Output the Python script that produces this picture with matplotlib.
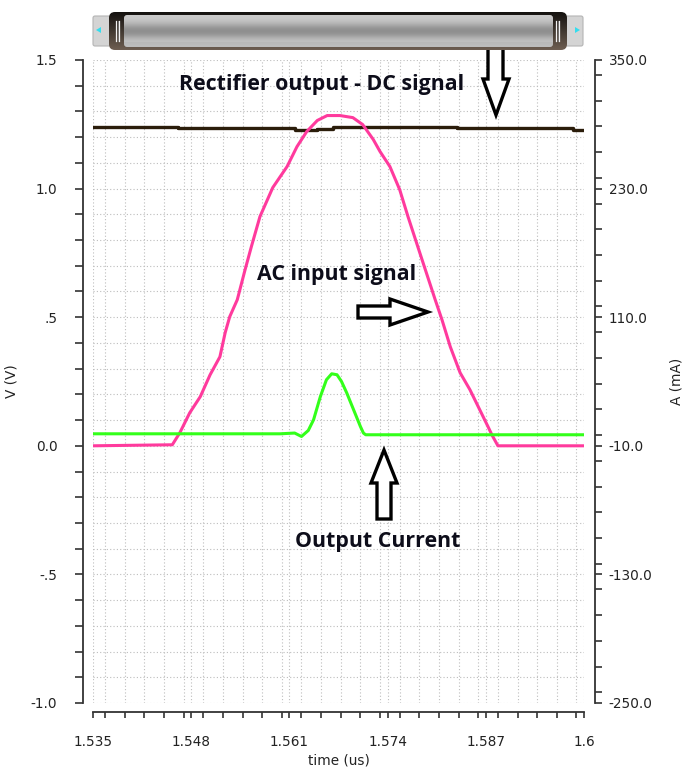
import numpy as np
import matplotlib
matplotlib.use("Agg")
import matplotlib.pyplot as plt
from matplotlib.ticker import MultipleLocator, FixedLocator
from matplotlib.patches import Polygon, FancyBboxPatch

# ---------------- data ----------------
time_ac = [1.5350, 1.5455, 1.5465, 1.5478, 1.5492, 1.5505, 1.5518, 1.5525, 1.5531, 1.5541,
           1.5551, 1.5560, 1.5571, 1.5588, 1.5607, 1.5620, 1.5633, 1.5647, 1.5660, 1.5677,
           1.5694, 1.5707, 1.5721, 1.5730, 1.5743, 1.5756, 1.5767, 1.5783, 1.5803, 1.5812,
           1.5823, 1.5836, 1.5849, 1.5862, 1.5873, 1.5878, 1.5886, 1.6000]
ac_volts = [0.0, 0.004, 0.051, 0.128, 0.191, 0.276, 0.346, 0.440, 0.502, 0.568,
            0.681, 0.778, 0.891, 1.004, 1.086, 1.163, 1.222, 1.265, 1.284, 1.284,
            1.276, 1.249, 1.191, 1.144, 1.086, 0.996, 0.891, 0.747, 0.568, 0.490,
            0.385, 0.284, 0.218, 0.140, 0.074, 0.043, 0.0, 0.0]

time_dc = [1.5350, 1.5463, 1.5617, 1.5647, 1.5668, 1.5832, 1.5985, 1.6000]
dc_volts = [1.241, 1.235, 1.226, 1.231, 1.241, 1.235, 1.228, 1.228]

time_i = [1.5350, 1.5598, 1.5617, 1.5626, 1.5635, 1.5642, 1.5651, 1.5659, 1.5666,
          1.5673, 1.5679, 1.5686, 1.5695, 1.5704, 1.5708, 1.5711, 1.6000]
current_ma = [1.2, 1.2, 1.9, -1.3, 4.3, 14.3, 36.0, 51.6, 57.2,
              56.3, 50.0, 39.2, 23.6, 8.0, 1.9, 0.3, 0.3]

x_ticks = [1.535, 1.548, 1.561, 1.574, 1.587, 1.6]
x_tick_labels = ["1.535", "1.548", "1.561", "1.574", "1.587", "1.6"]
v_ticks = [-1.0, -0.5, 0.0, 0.5, 1.0, 1.5]
v_tick_labels = ["-1.0", "-.5", "0.0", ".5", "1.0", "1.5"]
a_ticks = [-250.0, -130.0, -10.0, 110.0, 230.0, 350.0]
a_tick_labels = ["-250.0", "-130.0", "-10.0", "110.0", "230.0", "350.0"]

# ---------------- figure ----------------
W, H = 686, 767
fig = plt.figure(figsize=(W / 100, H / 100), dpi=100)
fig.patch.set_facecolor("white")

L, R, T, B = 93, 584, 60, 703
ax = fig.add_axes([L / W, 1 - B / H, (R - L) / W, (B - T) / H])
ax2 = ax.twinx()

def px(x, y):
    return ((x - L) / (R - L), (B - y) / (B - T))

spine_col = "#333333"
tick_col = "#222222"
tfs = 9.8

ax.set_xlim(1.535, 1.6)
ax.set_ylim(-1.0, 1.5)
ax2.set_ylim(-250, 350)

ax.xaxis.set_major_locator(FixedLocator(x_ticks))
ax.set_xticklabels(x_tick_labels)
ax.xaxis.set_minor_locator(MultipleLocator(0.0026))
ax.yaxis.set_major_locator(FixedLocator(v_ticks))
ax.set_yticklabels(v_tick_labels)
ax.yaxis.set_minor_locator(MultipleLocator(0.1))
ax2.yaxis.set_major_locator(FixedLocator(a_ticks))
ax2.set_yticklabels(a_tick_labels)
ax2.yaxis.set_minor_locator(MultipleLocator(24))

ax.grid(which="both", color="#bdbdbd", linestyle=(0, (1, 2)), linewidth=0.8)
ax.set_axisbelow(True)

for a in (ax, ax2):
    for s in a.spines.values():
        s.set_visible(False)
ax.spines["left"].set_visible(True)
ax.spines["bottom"].set_visible(True)
ax2.spines["right"].set_visible(True)
ax.spines["left"].set_position(("outward", 7.2))
ax.spines["bottom"].set_position(("outward", 6.5))
ax2.spines["right"].set_position(("outward", 7.9))
for s in (ax.spines["left"], ax.spines["bottom"], ax2.spines["right"]):
    s.set_color(spine_col)
    s.set_linewidth(1.3)

ax.tick_params(axis="y", which="both", direction="out", length=5.5, width=1.2,
               color=spine_col, labelsize=tfs, labelcolor=tick_col, pad=13)
ax.tick_params(axis="x", which="both", direction="out", length=4.5, width=1.2,
               color=spine_col, labelsize=tfs, labelcolor=tick_col, pad=12)
ax2.tick_params(axis="y", which="both", direction="out", length=5, width=1.2,
                color=spine_col, labelsize=tfs, labelcolor=tick_col, pad=5)

ax.set_xlabel("time (us)", fontsize=tfs, color=tick_col, labelpad=3)
ax.set_ylabel("V (V)", fontsize=tfs, color=tick_col, labelpad=9)
ax2.set_ylabel("A (mA)", fontsize=tfs, color=tick_col, labelpad=12)

# ---------------- series ----------------
ax.plot(time_dc, dc_volts, drawstyle="steps-post", color="#2b1d0b", lw=2.4, zorder=3)
ax.plot(time_ac, ac_volts, color="#ff3a9d", lw=2.2, zorder=4, solid_joinstyle="round")
ax2.plot(time_i, current_ma, color="#33ff1a", lw=2.2, zorder=4, solid_joinstyle="round")

# ---------------- annotations ----------------
txt_kw = dict(fontfamily="Open Sans", fontweight="bold", fontsize=15.4,
              color="#0d0d1a", transform=ax.transAxes, ha="center", va="center",
              zorder=6)
ax.text(*px(322, 85), "Rectifier output - DC signal", **txt_kw)
ax.text(*px(337, 275), "AC input signal", **txt_kw)
ax.text(*px(378, 541), "Output Current", **txt_kw)

arrows = [
    [(488, 46), (503, 46), (503, 79), (509, 79), (496, 115), (483, 79), (488, 79)],
    [(358, 306), (390, 306), (390, 299), (428, 312), (390, 325), (390, 318), (358, 318)],
    [(384, 450), (397, 483), (391, 483), (391, 519), (377, 519), (377, 483), (371, 483)],
]
for pts in arrows:
    poly = Polygon([px(x, y) for x, y in pts], closed=True, transform=ax.transAxes,
                   facecolor="white", edgecolor="black", lw=2.4, joinstyle="miter",
                   clip_on=False, zorder=7)
    ax.add_patch(poly)

# ---------------- scrollbar widget ----------------
sb = fig.add_axes([88 / W, 1 - 56 / H, 500 / W, 50 / H])
sb.set_xlim(88, 588)
sb.set_ylim(56, 6)
sb.axis("off")

track = FancyBboxPatch((93, 16), 490, 30, boxstyle="round,pad=0,rounding_size=2",
                       facecolor="#d4d4d4", edgecolor="#b4b4b4", lw=0.8)
sb.add_patch(track)
sb.add_patch(Polygon([(96, 30), (101, 27), (101, 33)], closed=True, facecolor="#33ddee", edgecolor="none"))
sb.add_patch(Polygon([(580, 30), (575, 27), (575, 33)], closed=True, facecolor="#33ddee", edgecolor="none"))

frame = FancyBboxPatch((109, 12), 458, 38, boxstyle="round,pad=0,rounding_size=6",
                       facecolor="none", edgecolor="none")
sb.add_patch(frame)
gy = np.linspace(0, 1, 64).reshape(-1, 1)
frame_grad = np.dstack([0.08 + 0.35 * gy, 0.07 + 0.30 * gy, 0.06 + 0.26 * gy])
im1 = sb.imshow(frame_grad, extent=(109, 567, 50, 12), aspect="auto", zorder=2,
                interpolation="bilinear")
im1.set_clip_path(frame)

inner = FancyBboxPatch((124, 15), 429, 32, boxstyle="round,pad=0,rounding_size=3",
                       facecolor="none", edgecolor="none", zorder=3)
sb.add_patch(inner)
prof = 0.80 - 0.24 * np.exp(-((gy - 0.5) / 0.25) ** 2)
prof = prof - 0.05 * (gy > 0.85)
inner_grad = np.dstack([prof, prof, prof])
im2 = sb.imshow(inner_grad, extent=(124, 553, 47, 15), aspect="auto", zorder=3,
                interpolation="bilinear")
im2.set_clip_path(inner)

for gx in (116, 119, 556, 559):
    sb.plot([gx, gx], [21, 41], color="#f2f2f2", lw=0.9, zorder=4)
for gx in (117.5, 557.5):
    sb.plot([gx, gx], [21, 41], color="#777777", lw=0.6, zorder=4)

fig.savefig("out.png", dpi=100)
